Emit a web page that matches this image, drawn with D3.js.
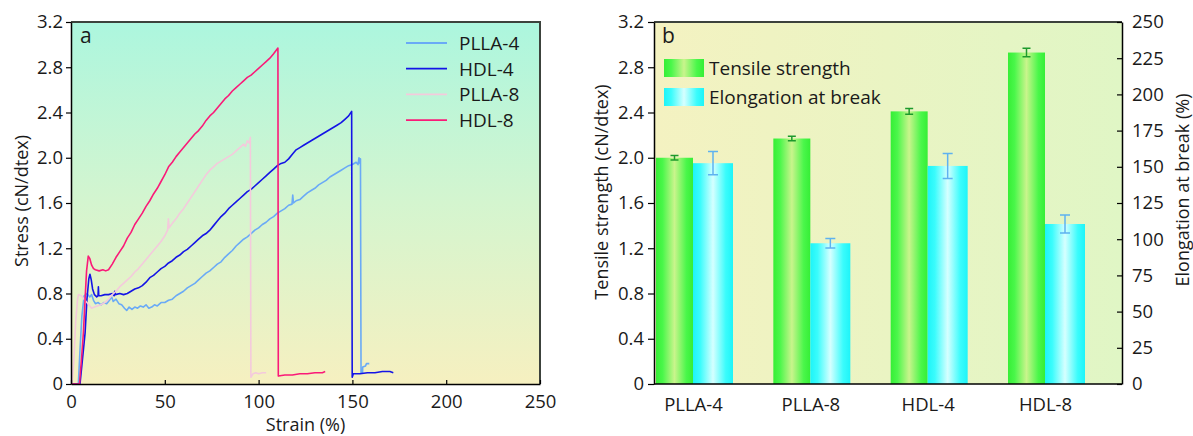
<!DOCTYPE html>
<html>
<head>
<meta charset="utf-8">
<script src="https://cdn.jsdelivr.net/npm/d3@7"></script>
<style>
  body { margin: 0; background: #fff; }
  svg text { font-family: "Open Sans", "Noto Sans", sans-serif; fill: #1a1a1a; }
</style>
</head>
<body>
<div id="chart"></div>
<script>
// Panel a: stress-strain curves, [strain %, stress cN/dtex]
const plla4 = [[0,0],[3.9,0],[4.8,0.3],[5.8,0.6],[7,0.78],[8.5,0.8],[10,0.77],[11,0.79],[12,0.74],[13,0.71],[14.5,0.72],[16,0.7],[17.5,0.72],[19,0.71],[20.5,0.74],[21.7,0.77],[22.5,0.73],[24,0.75],[25.5,0.71],[27,0.7],[28.5,0.67],[29.7,0.65],[31,0.68],[32.5,0.66],[34,0.68],[35.5,0.67],[37,0.69],[38.5,0.68],[40,0.7],[41.5,0.67],[43,0.68],[44.5,0.7],[46,0.69],[48,0.72],[50,0.72],[52,0.74],[54,0.75],[56,0.78],[58,0.8],[60,0.82],[62,0.85],[64,0.87],[66,0.89],[68,0.92],[70,0.95],[72,0.98],[74,1.0],[76,1.03],[78,1.06],[80,1.08],[82,1.12],[84,1.15],[86,1.18],[88,1.22],[90,1.25],[92,1.28],[94,1.3],[96,1.33],[98,1.36],[100,1.38],[102,1.41],[104,1.43],[106,1.46],[108,1.48],[110,1.51],[112,1.53],[114,1.55],[116,1.58],[117.8,1.59],[118.2,1.67],[118.6,1.6],[120,1.62],[122,1.63],[124,1.66],[126,1.69],[128,1.71],[130,1.73],[132,1.76],[134,1.78],[136,1.8],[138,1.83],[140,1.85],[142,1.87],[144,1.89],[146,1.91],[148,1.93],[150,1.94],[152,1.96],[153,1.94],[153.5,2.0],[154,1.95],[154.3,1.99],[154.6,0.1],[155.4,0.1],[155.5,0.15],[157,0.16],[157.5,0.18],[159,0.18]];
const hdl4 = [[0,0],[4.8,0],[6,0.2],[7.5,0.45],[8.5,0.75],[9.5,0.93],[10.1,0.97],[10.8,0.92],[11.5,0.84],[12.5,0.79],[13.7,0.77],[14.4,0.78],[14.6,0.86],[14.8,0.78],[16,0.78],[18,0.79],[20,0.79],[22,0.8],[23,0.78],[23.3,0.82],[23.6,0.79],[26,0.8],[28,0.79],[30,0.8],[32,0.82],[34,0.84],[36,0.85],[38,0.87],[40,0.9],[42,0.94],[44,0.96],[46,0.99],[48,1.02],[50,1.04],[52,1.07],[54,1.09],[56,1.12],[58,1.14],[60,1.17],[62,1.19],[64,1.22],[66,1.25],[68,1.28],[70,1.31],[72,1.33],[74,1.36],[76,1.4],[78,1.44],[80,1.48],[82,1.51],[84,1.55],[86,1.58],[88,1.61],[90,1.64],[92,1.67],[94,1.7],[96,1.72],[98,1.75],[100,1.78],[102,1.81],[104,1.84],[106,1.87],[108,1.9],[110,1.93],[112,1.95],[114,1.96],[116,1.99],[118,2.03],[120,2.07],[122,2.09],[124,2.11],[126,2.13],[128,2.15],[130,2.17],[132,2.19],[134,2.21],[136,2.23],[138,2.25],[140,2.27],[142,2.29],[144,2.31],[146,2.34],[148,2.37],[149.6,2.41],[149.9,0.06],[150.5,0.09],[154,0.09],[158,0.1],[162,0.1],[166,0.11],[170,0.11],[171.8,0.1]];
const plla8 = [[0,0],[0.5,0],[1.5,0.2],[2.5,0.55],[3.5,0.75],[4,0.79],[5.5,0.78],[7,0.75],[8.5,0.72],[10,0.69],[11,0.67],[12.5,0.68],[14,0.69],[16,0.7],[18,0.72],[20,0.75],[22,0.79],[24,0.82],[26,0.86],[28,0.89],[30,0.92],[32,0.95],[34,0.99],[36,1.02],[38,1.06],[40,1.1],[42,1.14],[44,1.18],[46,1.22],[48,1.26],[50,1.31],[51.5,1.36],[51.9,1.46],[52.3,1.38],[54,1.42],[56,1.46],[58,1.51],[60,1.55],[62,1.6],[64,1.65],[66,1.7],[68,1.75],[70,1.8],[72,1.85],[74,1.89],[76,1.92],[78,1.95],[80,1.97],[82,1.99],[84,2.01],[86,2.03],[88,2.06],[90,2.09],[92,2.12],[93,2.1],[94,2.15],[95,2.13],[95.6,2.18],[95.9,0.06],[97,0.09],[98.5,0.1],[100,0.09],[102,0.1],[104,0.1]];
const hdl8 = [[0,0],[1,0],[4.5,0],[5.5,0.2],[6.6,0.45],[7.5,0.75],[8.3,1.0],[9.2,1.13],[10,1.11],[11,1.05],[12,1.02],[13,1.01],[15,1.0],[17,1.01],[18.5,1.0],[20,1.01],[22,1.06],[24,1.12],[26,1.17],[28,1.22],[30,1.29],[32,1.34],[34,1.41],[36,1.46],[38,1.51],[40,1.57],[42,1.62],[44,1.68],[46,1.73],[48,1.79],[50,1.85],[52,1.92],[54,1.96],[56,2.01],[58,2.05],[60,2.09],[62,2.13],[64,2.17],[66,2.21],[68,2.24],[70,2.28],[72,2.33],[74,2.37],[76,2.4],[78,2.44],[80,2.48],[82,2.52],[84,2.55],[86,2.59],[88,2.62],[90,2.65],[92,2.68],[94,2.71],[96,2.73],[98,2.76],[100,2.79],[102,2.82],[104,2.85],[106,2.88],[108,2.92],[110.3,2.97],[110.5,0.07],[114,0.08],[118,0.08],[122,0.09],[126,0.09],[130,0.1],[134,0.1],[135.5,0.11]];
const curveNames = ["PLLA-4", "HDL-4", "PLLA-8", "HDL-8"];
const curveColors = ["#6aaaf6", "#1414e6", "#f4cadc", "#fa1a78"];
const strainTicks = [0, 50, 100, 150, 200, 250];
const stressTicks = [0, 0.4, 0.8, 1.2, 1.6, 2.0, 2.4, 2.8, 3.2];

// Panel b: mechanical properties
const samples = ["PLLA-4", "PLLA-8", "HDL-4", "HDL-8"];
const tensile = [2.0, 2.17, 2.41, 2.93];
const tensileErr = [0.02, 0.02, 0.025, 0.037];
const elongation = [152.5, 97.2, 150.6, 110.5];
const elongationErr = [8, 3.2, 8.6, 6.2];
const elongTicks = [0, 25, 50, 75, 100, 125, 150, 175, 200, 225, 250];

const svg = d3.select("#chart").append("svg")
  .attr("width", 1193)
  .attr("height", 436);

const defs = svg.append("defs");
const bgA = defs.append("linearGradient").attr("id", "bgA")
  .attr("x1", 0).attr("y1", 0).attr("x2", 0).attr("y2", 1);
bgA.append("stop").attr("offset", "0%").attr("stop-color", "#acf6de");
bgA.append("stop").attr("offset", "50%").attr("stop-color", "#d4f5cf");
bgA.append("stop").attr("offset", "100%").attr("stop-color", "#f6f0c0");

const bgB = defs.append("linearGradient").attr("id", "bgB")
  .attr("x1", 0).attr("y1", 0).attr("x2", 1).attr("y2", 0);
bgB.append("stop").attr("offset", "0%").attr("stop-color", "#f4f2c1");
bgB.append("stop").attr("offset", "100%").attr("stop-color", "#e0f6c5");

const gGreen = defs.append("linearGradient").attr("id", "gGreen")
  .attr("x1", 0).attr("y1", 0).attr("x2", 1).attr("y2", 0);
[["0%", "#36ee36"], ["18%", "#4af74a"], ["50%", "#c9f48c"], ["82%", "#4af74a"], ["100%", "#36ee36"]]
  .forEach(s => gGreen.append("stop").attr("offset", s[0]).attr("stop-color", s[1]));

const gCyan = defs.append("linearGradient").attr("id", "gCyan")
  .attr("x1", 0).attr("y1", 0).attr("x2", 1).attr("y2", 0);
[["0%", "#1ef4f8"], ["18%", "#3afcfc"], ["50%", "#d6ffff"], ["82%", "#3afcfc"], ["100%", "#1ef4f8"]]
  .forEach(s => gCyan.append("stop").attr("offset", s[0]).attr("stop-color", s[1]));

const fmtStress = d => d === 0 ? "0" : d.toFixed(1);
const tickFont = 18.5;

// ---------- Panel a ----------
const wA = 469, hA = 362;
const gA = svg.append("g").attr("transform", "translate(71,22)");

const xA = d3.scaleLinear().domain([0, 250]).range([0, wA]);
const yA = d3.scaleLinear().domain([0, 3.2]).range([hA, 0]);

gA.append("rect").attr("width", wA).attr("height", hA).attr("fill", "url(#bgA)");

const line = d3.line().x(d => xA(d[0])).y(d => yA(d[1]));
[plla4, hdl4, plla8, hdl8].forEach((s, i) => {
  gA.append("path")
    .datum(s)
    .attr("fill", "none")
    .attr("stroke", curveColors[i])
    .attr("stroke-width", 1.6)
    .attr("stroke-linejoin", "round")
    .attr("d", line);
});

// frame top/right
gA.append("path")
  .attr("d", `M0,0H${wA}V${hA}`)
  .attr("fill", "none").attr("stroke", "#3c423c").attr("stroke-width", 2);

gA.append("g")
  .attr("transform", `translate(0,${hA})`)
  .call(d3.axisBottom(xA).tickValues(strainTicks).tickSizeInner(-4).tickSizeOuter(0).tickPadding(11))
  .call(g => g.selectAll("text").attr("font-size", tickFont));

gA.append("g")
  .call(d3.axisLeft(yA).tickValues(stressTicks).tickFormat(fmtStress).tickSizeInner(5).tickSizeOuter(0).tickPadding(3))
  .call(g => g.selectAll("text").attr("font-size", tickFont));

gA.append("text").attr("x", 9).attr("y", 21).attr("font-size", 21).text("a");

gA.append("text")
  .attr("x", wA / 2).attr("y", 409)
  .attr("text-anchor", "middle").attr("font-size", 18)
  .text("Strain (%)");

gA.append("text")
  .attr("transform", `translate(-43,179) rotate(-90)`)
  .attr("text-anchor", "middle").attr("font-size", 18)
  .text("Stress (cN/dtex)");

// legend a
const legA = gA.append("g").attr("transform", "translate(335,21)");
curveNames.forEach((n, i) => {
  const y = i * 25.7;
  legA.append("line").attr("x1", 0).attr("x2", 41).attr("y1", y).attr("y2", y)
    .attr("stroke", curveColors[i]).attr("stroke-width", 1.8);
  legA.append("text").attr("x", 53).attr("y", y).attr("dy", "0.36em")
    .attr("font-size", 19).text(n);
});

// ---------- Panel b ----------
const wB = 468, hB = 362;
const gB = svg.append("g").attr("transform", "translate(654,22)");

const xB = d3.scalePoint().domain(samples).range([39, 391]);
const yB = d3.scaleLinear().domain([0, 3.2]).range([hB, 0]);
const yB2 = d3.scaleLinear().domain([0, 250]).range([hB, 0]);
const greenW = 37, cyanW = 40;

gB.append("rect").attr("width", wB).attr("height", hB).attr("fill", "url(#bgB)");

gB.selectAll(".barT").data(samples).join("rect")
  .attr("x", d => xB(d) - greenW)
  .attr("y", (d, i) => yB(tensile[i]))
  .attr("width", greenW)
  .attr("height", (d, i) => hB - yB(tensile[i]))
  .attr("fill", "url(#gGreen)");

gB.selectAll(".barE").data(samples).join("rect")
  .attr("x", d => xB(d))
  .attr("y", (d, i) => yB2(elongation[i]))
  .attr("width", cyanW)
  .attr("height", (d, i) => hB - yB2(elongation[i]))
  .attr("fill", "url(#gCyan)");

function errBar(cx, yScale, v, e, color, cap) {
  const y0 = yScale(v - e), y1 = yScale(v + e);
  gB.append("path")
    .attr("d", `M${cx},${y0}V${y1}M${cx - cap},${y0}H${cx + cap}M${cx - cap},${y1}H${cx + cap}`)
    .attr("fill", "none").attr("stroke", color).attr("stroke-width", 1.5);
}
samples.forEach((s, i) => {
  errBar(xB(s) - greenW / 2, yB, tensile[i], tensileErr[i], "#1c9a2c", 4);
  errBar(xB(s) + cyanW / 2, yB2, elongation[i], elongationErr[i], "#5eb2f0", 5);
});

gB.append("path")
  .attr("d", `M0,0H${wB}`)
  .attr("fill", "none").attr("stroke", "#3c423c").attr("stroke-width", 2);

gB.append("g")
  .attr("transform", `translate(0,${hB})`)
  .call(d3.axisBottom(xB).tickSize(0).tickPadding(14))
  .call(g => g.selectAll("text").attr("font-size", tickFont))
  .call(g => g.select(".domain").attr("d", `M0,0H${wB}`));

gB.append("g")
  .call(d3.axisLeft(yB).tickValues(stressTicks).tickFormat(fmtStress).tickSizeInner(6).tickSizeOuter(0).tickPadding(4))
  .call(g => g.selectAll("text").attr("font-size", tickFont));

gB.append("g")
  .attr("transform", `translate(${wB},0)`)
  .call(d3.axisRight(yB2).tickValues(elongTicks).tickSizeInner(-5).tickSizeOuter(0).tickPadding(10))
  .call(g => g.selectAll("text").attr("font-size", tickFont));

svg.selectAll(".domain").attr("stroke", "#000").attr("stroke-width", 1.5);
svg.selectAll(".tick line").attr("stroke", "#000").attr("stroke-width", 1.2);
svg.selectAll(".tick text").attr("fill", "#1a1a1a");

gB.append("text").attr("x", 8).attr("y", 21).attr("font-size", 21).text("b");

gB.append("text")
  .attr("transform", `translate(-46,170) rotate(-90)`)
  .attr("text-anchor", "middle").attr("font-size", 18)
  .text("Tensile strength (cN/dtex)");

gB.append("text")
  .attr("transform", `translate(${wB + 67},168) rotate(-90)`)
  .attr("text-anchor", "middle").attr("font-size", 18)
  .text("Elongation at break (%)");

// legend b
const legB = gB.append("g").attr("transform", "translate(10,37)");
[["url(#gGreen)", "Tensile strength"], ["url(#gCyan)", "Elongation at break"]].forEach((d, i) => {
  const y = i * 29;
  legB.append("rect").attr("x", 0).attr("y", y).attr("width", 40).attr("height", 18).attr("fill", d[0]);
  legB.append("text").attr("x", 45).attr("y", y + 9).attr("dy", "0.36em")
    .attr("font-size", 19).text(d[1]);
});
</script>
</body>
</html>
